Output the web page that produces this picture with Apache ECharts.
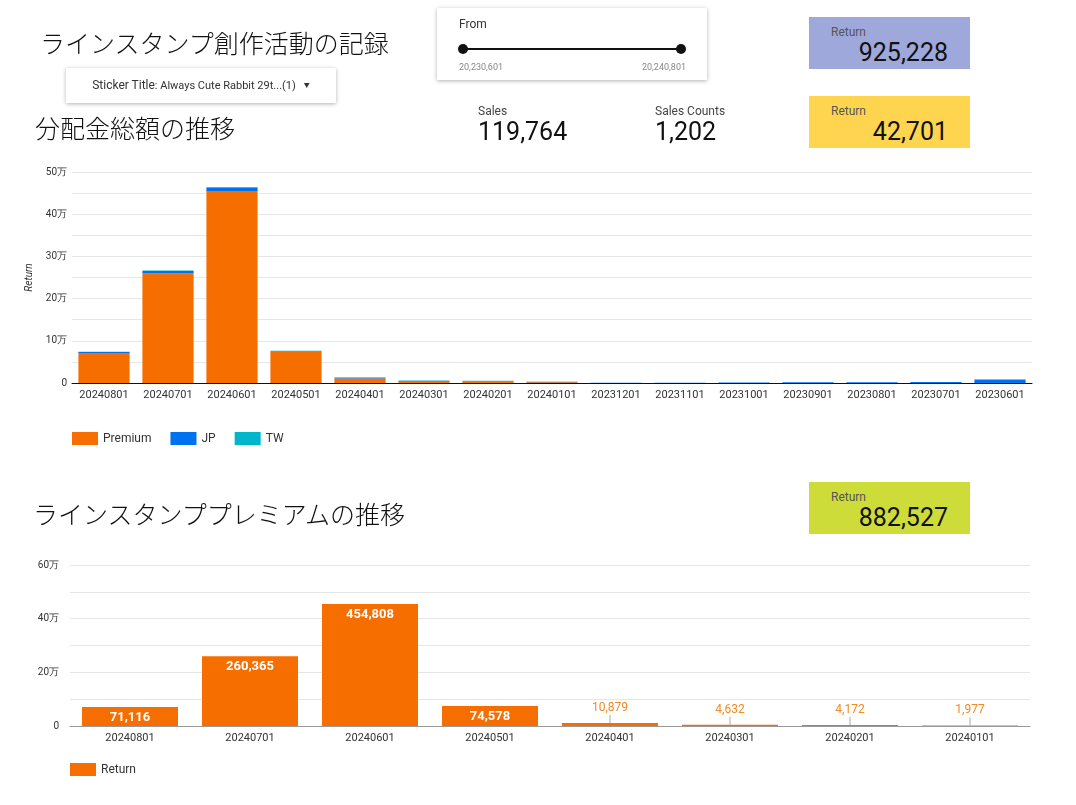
<!DOCTYPE html>
<html>
<head>
<meta charset="utf-8">
<script src="https://cdn.jsdelivr.net/npm/echarts@6/dist/echarts.min.js"></script>
<style>
  html, body { margin: 0; padding: 0; background: #fff; }
  body { width: 1076px; height: 805px; position: relative; overflow: hidden;
         font-family: Roboto, "Noto Sans CJK JP", sans-serif; color: #222; }
  #chart { position: absolute; left: 0; top: 0; width: 1076px; height: 805px; }
  .w { position: absolute; z-index: 2; }
  .title { font-family: "Noto Sans CJK JP", sans-serif; font-weight: 300; font-size: 25px;
           line-height: 30px; color: #111; white-space: nowrap; }
  .card { background: #fff; box-shadow: 0 1px 4px rgba(0,0,0,0.3); }
  .lbl { font-size: 12px; color: #444; }
  .big { font-size: 25px; color: #111; line-height: 28px; }
  .kpi { width: 161px; height: 52px; }
  .kpi .lbl { position: absolute; left: 22px; top: 8px; color: #555; }
  .kpi .big { position: absolute; right: 22px; top: 22px; font-size: 25px; }
</style>
</head>
<body>
<div id="chart"></div>

<!-- 見出し -->
<div class="w title" style="left:40px;top:27px;">ラインスタンプ創作活動の記録</div>
<div class="w title" style="left:35px;top:112px;">分配金総額の推移</div>
<div class="w title" style="left:33px;top:498px;">ラインスタンププレミアムの推移</div>

<!-- フィルタ -->
<div class="w card" style="left:66px;top:68px;width:270px;height:35px;">
  <div style="position:absolute;left:0;right:0;top:10px;text-align:center;font-size:12px;color:#333;white-space:nowrap;">
    Sticker Title<span style="font-size:11px;">: Always Cute Rabbit 29t...(1)</span>
    <span style="font-size:6px;margin-left:5px;position:relative;top:-2px;">&#9660;</span>
  </div>
</div>

<div class="w card" style="left:437px;top:8px;width:270px;height:72px;">
  <div class="lbl" style="position:absolute;left:22px;top:9px;color:#333;">From</div>
  <div style="position:absolute;left:26px;top:40px;width:218px;height:2px;background:#111;"></div>
  <div style="position:absolute;left:21px;top:36px;width:10px;height:10px;border-radius:5px;background:#111;"></div>
  <div style="position:absolute;left:239px;top:36px;width:10px;height:10px;border-radius:5px;background:#111;"></div>
  <div style="position:absolute;left:22px;top:54px;font-size:9px;color:#888;">20,230,601</div>
  <div style="position:absolute;right:21px;top:54px;font-size:9px;color:#888;">20,240,801</div>
</div>

<!-- スコアカード -->
<div class="w" style="left:478px;top:104px;">
  <div class="lbl">Sales</div>
  <div class="big">119,764</div>
</div>
<div class="w" style="left:655px;top:104px;">
  <div class="lbl">Sales Counts</div>
  <div class="big">1,202</div>
</div>
<div class="w kpi" style="left:809px;top:17px;background:#9fa8da;">
  <div class="lbl">Return</div><div class="big">925,228</div>
</div>
<div class="w kpi" style="left:809px;top:96px;background:#ffd54f;">
  <div class="lbl">Return</div><div class="big">42,701</div>
</div>
<div class="w kpi" style="left:809px;top:482px;background:#cddc39;">
  <div class="lbl">Return</div><div class="big">882,527</div>
</div>

<script>
// 月別データ
const months = ['20240801', '20240701', '20240601', '20240501', '20240401', '20240301', '20240201', '20240101',
                '20231201', '20231101', '20231001', '20230901', '20230801', '20230701', '20230601'];
const premium = [71116, 260365, 454808, 74578, 10879, 4632, 4172, 1977, 0, 0, 0, 0, 0, 0, 0];
const jp = [2400, 5200, 8200, 1200, 1900, 900, 700, 800, 600, 500, 900, 1500, 1500, 2400, 8000];
const tw = [500, 1100, 1500, 700, 500, 300, 300, 200, 100, 100, 200, 200, 200, 200, 1];

// プレミアム（2024年分）
const premiumMonths = months.slice(0, 8);
const premiumReturn = premium.slice(0, 8);

const topTicks = [0, 100000, 200000, 300000, 400000, 500000];
const bottomTicks = [0, 200000, 400000, 600000];

const ORANGE = '#f66d00', BLUE = '#0072f0', TEAL = '#00b6cb';

function man(v) { return v === 0 ? '0' : (v / 10000) + '万'; }
function fmt(v) { return v.toLocaleString('en-US'); }

const chart = echarts.init(document.getElementById('chart'));

const axisLabel = { color: '#333', fontSize: 11, fontFamily: 'Roboto' };

chart.setOption({
  animation: false,
  textStyle: { fontFamily: 'Roboto' },
  grid: [
    { left: 72, top: 172, width: 960, height: 211 },
    { left: 70, top: 565, width: 960, height: 161 }
  ],
  legend: [
    { left: 67, top: 427, icon: 'rect', itemWidth: 26, itemHeight: 13, itemGap: 19,
      textStyle: { color: '#333', fontSize: 12 }, data: ['Premium', 'JP', 'TW'] },
    { left: 65, top: 758, icon: 'rect', itemWidth: 26, itemHeight: 13,
      textStyle: { color: '#333', fontSize: 12 }, data: ['Return'] }
  ],
  xAxis: [
    { type: 'category', gridIndex: 0, data: months,
      axisLine: { lineStyle: { color: '#111' } }, axisTick: { show: false },
      axisLabel: Object.assign({ margin: 7, interval: 0 }, axisLabel) },
    { type: 'category', gridIndex: 1, data: premiumMonths,
      axisLine: { lineStyle: { color: '#999' } }, axisTick: { show: false },
      axisLabel: Object.assign({ margin: 7, interval: 0 }, axisLabel) }
  ],
  yAxis: [
    { type: 'value', gridIndex: 0, min: 0, max: 500000, interval: 50000,
      name: 'Return', nameLocation: 'middle', nameGap: 32,
      nameTextStyle: { fontSize: 10, fontStyle: 'italic', color: '#333' },
      axisLine: { show: false }, axisTick: { show: false },
      axisLabel: Object.assign({}, axisLabel, { fontSize: 10, margin: 5,
        formatter: v => topTicks.indexOf(v) >= 0 ? man(v) : '' }),
      splitLine: { lineStyle: { color: '#e6e6e6' } } },
    { type: 'value', gridIndex: 1, min: 0, max: 600000, interval: 100000,
      axisLine: { show: false }, axisTick: { show: false },
      axisLabel: Object.assign({}, axisLabel, { fontSize: 10, margin: 11,
        formatter: v => bottomTicks.indexOf(v) >= 0 ? man(v) : '' }),
      splitLine: { lineStyle: { color: '#e6e6e6' } } }
  ],
  series: [
    { name: 'Premium', type: 'bar', stack: 'ret', xAxisIndex: 0, yAxisIndex: 0,
      barCategoryGap: '20%', itemStyle: { color: ORANGE }, data: premium },
    { name: 'JP', type: 'bar', stack: 'ret', xAxisIndex: 0, yAxisIndex: 0,
      itemStyle: { color: BLUE }, data: jp },
    { name: 'TW', type: 'bar', stack: 'ret', xAxisIndex: 0, yAxisIndex: 0,
      itemStyle: { color: TEAL }, data: tw },
    { name: 'Return', type: 'bar', xAxisIndex: 1, yAxisIndex: 1,
      barCategoryGap: '20%', itemStyle: { color: ORANGE },
      data: premiumReturn.map(v => {
        if (v >= 50000) {
          return { value: v, label: { show: true, position: 'insideTop', distance: 4,
            color: '#fff', fontWeight: 'bold', fontSize: 13, formatter: fmt(v) } };
        }
        return { value: v, label: { show: true, position: 'top', distance: 0,
          formatter: '{v|' + fmt(v) + '}\n{l|}',
          rich: {
            v: { color: '#f08a24', fontSize: 12, fontFamily: 'Roboto', align: 'center', lineHeight: 14 },
            l: { width: 1, height: 8, backgroundColor: '#aaa', align: 'center' }
          } } };
      }) }
  ]
});
</script>
</body>
</html>
